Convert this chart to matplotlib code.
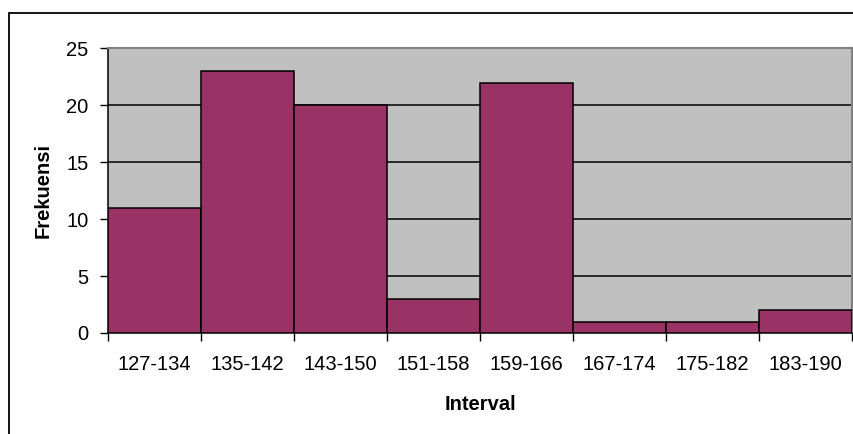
import matplotlib
matplotlib.use("Agg")
import matplotlib.pyplot as plt
from matplotlib.patches import Rectangle
import numpy as np

categories = ["127-134", "135-142", "143-150", "151-158", "159-166", "167-174", "175-182", "183-190"]
frekuensi = [11, 23, 20, 3, 22, 1, 1, 2]
y_ticks = [0, 5, 10, 15, 20, 25]

plt.rcParams['font.family'] = ['Liberation Sans', 'DejaVu Sans']

W, H = 854, 434
fig = plt.figure(figsize=(W / 100, H / 100), dpi=100)
fig.patch.set_facecolor("white")

# outer chart border
fig.patches.append(Rectangle((9 / W, -0.05), 1.2, (H - 13) / H + 0.05, transform=fig.transFigure,
                             fill=False, edgecolor="black", linewidth=1.3, zorder=0))

left, right, top, bottom = 108, 852, 48.5, 333
ax = fig.add_axes([left / W, (H - bottom) / H, (right - left) / W, (bottom - top) / H])
ax.set_facecolor("#C0C0C0")

x = np.arange(len(categories))
ax.bar(x + 0.5, frekuensi, width=1.0, color="#993366", edgecolor="black", linewidth=1.1, zorder=3)

ax.set_xlim(0, len(categories))
ax.set_ylim(0, 25)
ax.set_yticks(y_ticks)
ax.set_yticklabels([str(v) for v in y_ticks], fontsize=14.5)
ax.set_xticks(np.arange(len(categories) + 1))
ax.set_xticklabels([])
ax.set_xticks(x + 0.5, minor=True)
ax.set_xticklabels(categories, minor=True, fontsize=14.5)
ax.tick_params(axis="x", which="minor", length=0, pad=15.5)
ax.tick_params(axis="x", which="major", length=6, width=1, direction="out", color="black")
ax.tick_params(axis="y", length=6, width=1, direction="out", pad=8)

for v in y_ticks[1:-1]:
    ax.axhline(v, color="black", linewidth=1.1, zorder=1)

for s in ["left", "bottom"]:
    ax.spines[s].set_color("black")
    ax.spines[s].set_linewidth(1.1)
for s in ["top", "right"]:
    ax.spines[s].set_color("#808080")
    ax.spines[s].set_linewidth(1.5)

fig.text(43 / W, 1 - 190 / H, "Frekuensi", rotation=90, ha="center", va="center",
         fontsize=14.5, fontweight="bold")
fig.text(480 / W, 1 - 404 / H, "Interval", ha="center", va="center",
         fontsize=14.5, fontweight="bold")

fig.savefig("out.png", dpi=100)
